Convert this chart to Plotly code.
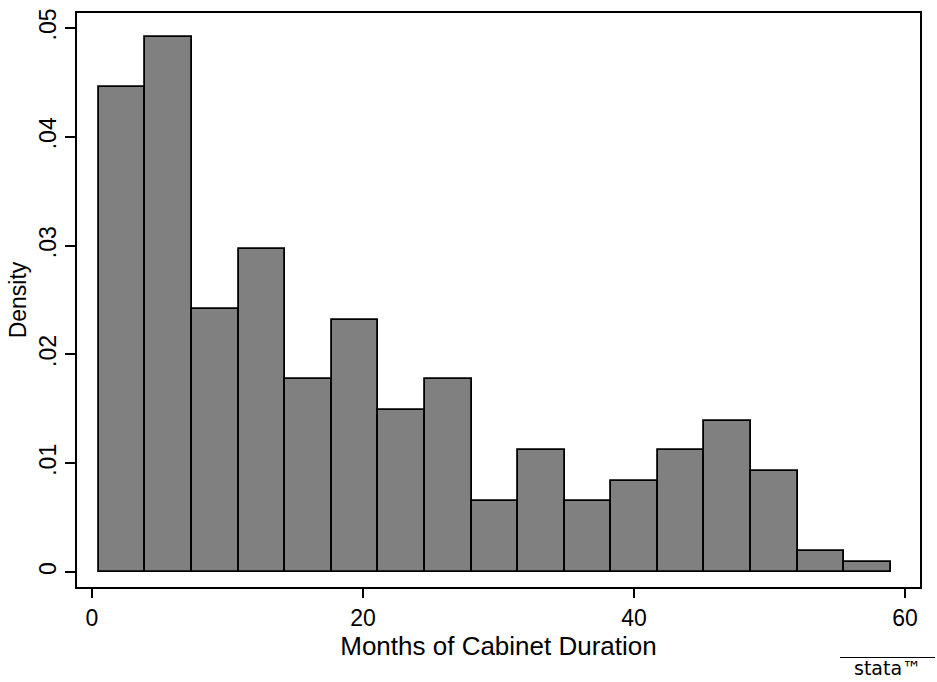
import plotly.graph_objects as go

# Histogram of cabinet duration (Stata style)
bin_start = 0.5
bin_width = 3.438
density = [0.0446, 0.0492, 0.0242, 0.0297, 0.0177, 0.0232, 0.0149, 0.0177,
           0.0065, 0.0112, 0.0065, 0.0084, 0.0112, 0.0139, 0.0093, 0.0019, 0.0009]
x_ticks = [0, 20, 40, 60]
y_ticks = [0, 0.01, 0.02, 0.03, 0.04, 0.05]
y_ticktext = ["0", ".01", ".02", ".03", ".04", ".05"]

centers = [bin_start + bin_width * (i + 0.5) for i in range(len(density))]

FONT = "Liberation Sans, Arial, sans-serif"

fig = go.Figure()
fig.add_trace(go.Bar(
    x=centers, y=density, width=[bin_width] * len(density),
    marker=dict(color="#808080", line=dict(color="black", width=1.8)),
    hoverinfo="x+y",
))

fig.update_layout(
    width=937, height=682,
    margin=dict(l=77, r=17, t=9, b=95),
    paper_bgcolor="white", plot_bgcolor="white",
    showlegend=False, bargap=0,
    font=dict(family=FONT, color="black"),
    xaxis=dict(
        range=[-1.107, 61.1], tickvals=x_ticks, ticktext=[str(v) for v in x_ticks],
        showline=True, linecolor="black", linewidth=2, mirror=True,
        ticks="outside", ticklen=9, tickwidth=1.5, tickcolor="black",
        showgrid=False, zeroline=False,
        tickfont=dict(size=23, family=FONT),
        title=dict(text="Months of Cabinet Duration", font=dict(size=26, family=FONT), standoff=4),
    ),
    yaxis=dict(
        range=[-0.00137, 0.05137], tickvals=y_ticks, ticktext=y_ticktext,
        showline=True, linecolor="black", linewidth=2, mirror=True,
        ticks="outside", ticklen=10, tickwidth=1.5, tickcolor="black",
        showgrid=False, zeroline=False, tickangle=-90,
        tickfont=dict(size=23, family=FONT),
        title=dict(text="Density", font=dict(size=23, family=FONT), standoff=2),
    ),
)

# Stata logo text at bottom right
fig.add_annotation(
    text="stata™", xref="paper", yref="paper", x=(887.5 - 77) / 843, y=-0.118,
    xanchor="center", yanchor="top", showarrow=False,
    font=dict(size=19, family="DejaVu Sans", color="black"),
)
fig.add_shape(type="line", xref="paper", yref="paper",
              x0=(840 - 77) / 843, x1=(935 - 77) / 843,
              y0=(587 - 658) / 578, y1=(587 - 658) / 578,
              line=dict(color="black", width=1))

fig.write_html("out.html")
